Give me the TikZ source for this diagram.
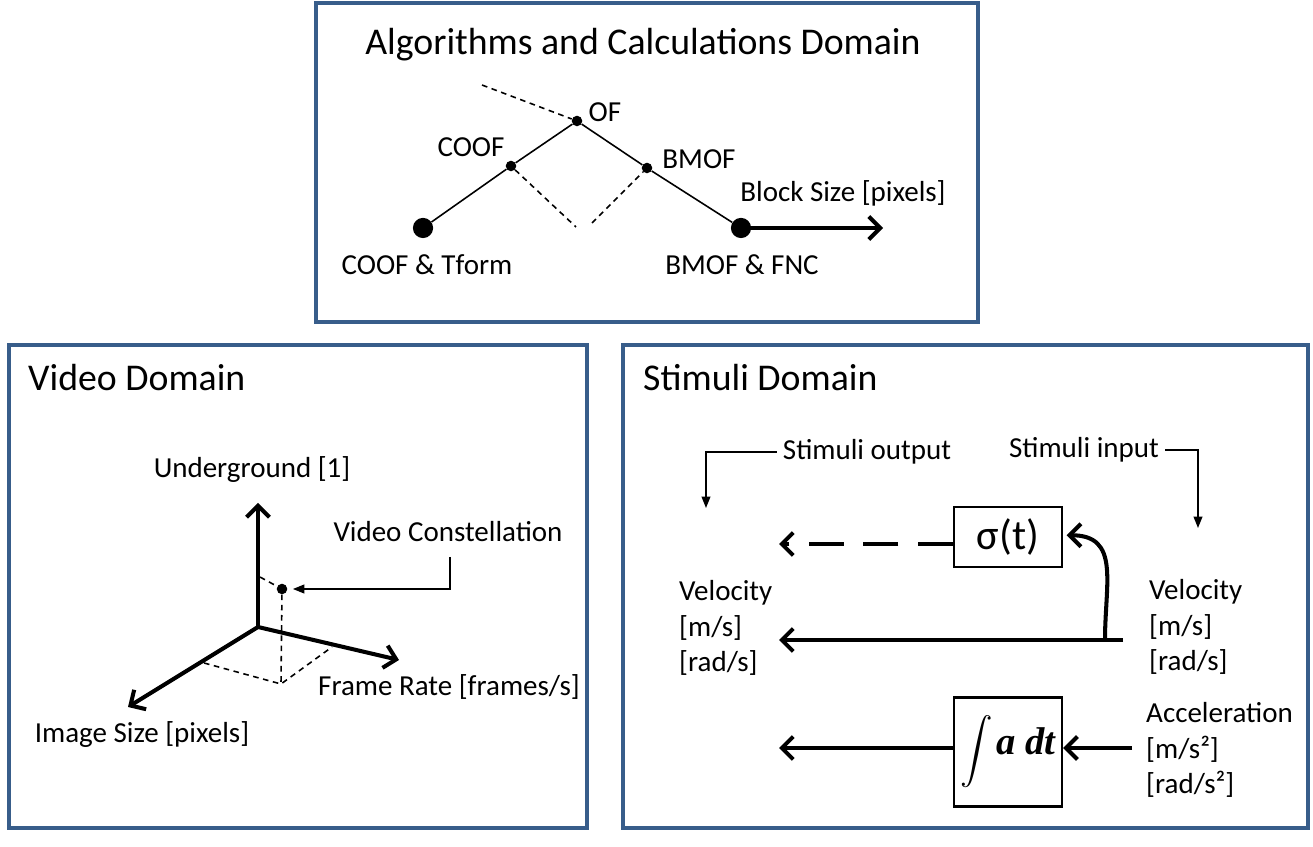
\documentclass[tikz,border=0pt]{standalone}
\usepackage{fontspec}
\setmainfont{Carlito}
\newfontfamily\timesfnt{Liberation Serif}
\usepackage{tikz}
\usetikzlibrary{arrows.meta,positioning}
\definecolor{frameblue}{HTML}{385D8A}
\tikzset{
  domainframe/.style={draw=frameblue,line width=1.8pt},
  heading/.style={font=\fontsize{21.5}{25}\selectfont},
  lbl/.style={font=\fontsize{16.5}{20}\selectfont},
  pt/.style={circle,fill=black,inner sep=0pt,minimum size=6pt},
  bigpt/.style={circle,fill=black,inner sep=0pt,minimum size=11.5pt},
  block/.style={draw,line width=1.3pt,inner sep=0pt},
  thickarrow/.style={line width=2.3pt,-{Straight Barb[length=6.5pt,width=13pt]}},
  thinline/.style={line width=0.9pt},
  pointer/.style={line width=0.9pt,-{Triangle[length=6.5pt,width=5pt]}},
  dashthin/.style={line width=0.9pt,dash pattern=on 3.2pt off 2.6pt}
}

\begin{document}
\begin{tikzpicture}[x=0.02cm,y=-0.02cm]
\useasboundingbox (0,0) rectangle (1313,847);
\fill[white] (0,0) rectangle (1313,847);
% the three domains
\draw[domainframe] (316,3) rectangle (978,322);
\draw[domainframe] (9,345) rectangle (587,828);
\draw[domainframe] (623,345) rectangle (1308,828);

% algorithms and calculations
\node[heading] (algt) at (643,45) {Algorithms and Calculations Domain};
\node[pt] (of) at (577,121) {};
\node[pt] (coof) at (511,166) {};
\node[pt] (bmof) at (647,168) {};
\node[bigpt] (coft) at (423,228) {};
\node[bigpt] (bmfnc) at (741,228) {};
\coordinate (dstart) at (482,85);
\coordinate (vl) at (576,227);
\coordinate (vr) at (592,223);
\coordinate (bsend) at (883,228);
\node[lbl] at (605,112) {OF};
\node[lbl] at (471,147) {COOF};
\node[lbl] at (699,159) {BMOF};
\node[lbl] at (427,265) {COOF \& Tform};
\node[lbl] at (742,265) {BMOF \& FNC};
\node[lbl] at (843,193) {Block Size [pixels]};
\draw[thinline] (coft) -- (coof) -- (of) -- (bmof) -- (bmfnc);
\draw[dashthin] (dstart) -- (of);
\draw[dashthin] (coof) -- (vl);
\draw[dashthin] (vr) -- (bmof);
\draw[thickarrow] (bmfnc) -- (bsend);

% video domain
\node[heading,anchor=west] (vidt) at (22,378) {Video Domain};
\coordinate (o) at (258,627);
\coordinate (zt) at (258,503);
\coordinate (xt) at (128,707);
\coordinate (yt) at (399,660);
\coordinate (flr) at (281,684);
\coordinate (fx) at (204,663);
\coordinate (fy) at (332,647);
\coordinate (fz) at (260,577);
\node[pt] (vc) at (282,589) {};
\draw[thickarrow] (o) -- (zt);
\draw[thickarrow] (o) -- (xt);
\draw[thickarrow] (o) -- (yt);
\draw[dashthin] (fz) -- (vc) -- (flr);
\draw[dashthin] (fx) -- (flr) -- (fy);
\node[lbl] at (252,470) {Underground [1]};
\node[lbl] (vcl) at (448,532) {Video Constellation};
\node[lbl] at (449,687) {Frame Rate [frames/s]};
\node[lbl] at (142,735) {Image Size [pixels]};
\coordinate (vctop) at (450,557);
\draw[pointer,shorten >=3pt] (vctop) |- (vc);

% stimuli domain
\node[heading,anchor=west] (stit) at (637,378) {Stimuli Domain};
\node[lbl] (sout) at (867,452) {Stimuli output};
\node[lbl] (sin) at (1084,450) {Stimuli input};
\coordinate (sot) at (706,508);
\coordinate (sit) at (1198,528);
\draw[pointer] (sout.west) -| (sot);
\draw[pointer] (sin.east) -| (sit);

\node[block,minimum width=108*0.02cm,minimum height=60*0.02cm,
      font=\fontsize{24}{28}\selectfont] (sig) at (1008,537) {σ(t)};
\node[block,minimum width=108*0.02cm,minimum height=109*0.02cm] (intg) at (1008,752)
  {\raisebox{-3pt}{\scalebox{1.85}{$\displaystyle\int$}}\,{\timesfnt\fontsize{22}{24}\selectfont\bfseries\itshape a dt}};

\coordinate (dashend) at (779,544);
\coordinate (velin) at (1123,640);
\coordinate (split) at (1105,640);
\coordinate (velout) at (779,640);
\coordinate (accin) at (1132,748);
\coordinate (accout) at (779,748);
\draw[thickarrow,dash pattern=on 20pt off 11pt] (sig.west |- dashend) -- (dashend);
\draw[thickarrow] (velin) -- (velout);
\draw[thickarrow,shorten >=2pt] (split) to[out=90,in=0,looseness=1.3] ([yshift=1pt]sig.east);
\draw[thickarrow] (accin) -- (intg.east |- accin);
\draw[thickarrow] (intg.west |- accout) -- (accout);

\node[lbl,anchor=west,align=left] (vell) at (673,628) {Velocity\\{}[m/s]\\{}[rad/s]};
\node[lbl,anchor=west,align=left] (velr) at (1143,627) {Velocity\\{}[m/s]\\{}[rad/s]};
\node[lbl,anchor=west,align=left] (accr) at (1140,750) {Acceleration\\{}[m/s²]\\{}[rad/s²]};
\end{tikzpicture}
\end{document}
